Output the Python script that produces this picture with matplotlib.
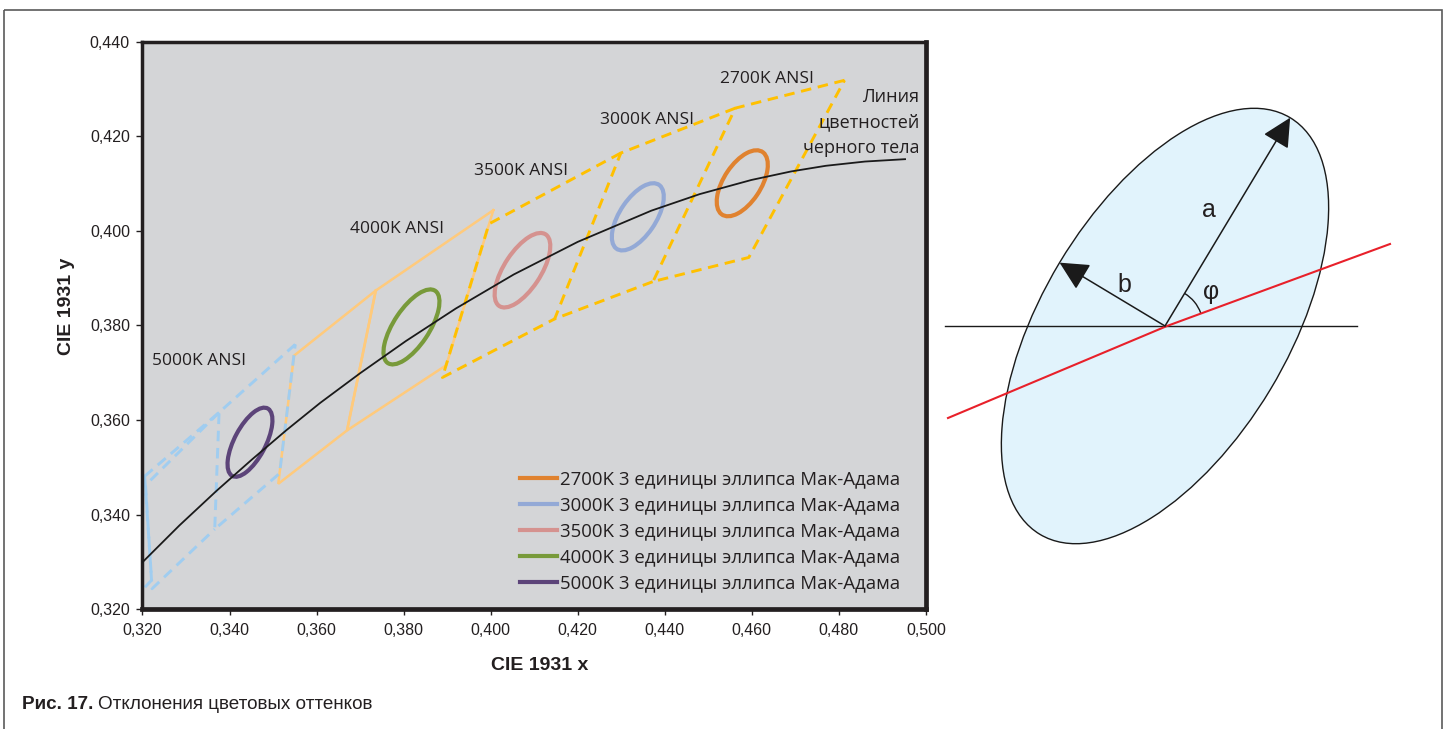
import numpy as np
import matplotlib
matplotlib.use('Agg')
import matplotlib.pyplot as plt
from matplotlib.patches import Ellipse, Arc, Rectangle
from matplotlib.lines import Line2D

plt.rcParams['font.family'] = ['Liberation Sans', 'DejaVu Sans']
TXT = '#231F20'
LABEL_FONT = ['Open Sans', 'DejaVu Sans']

# -------------------- ДАННЫЕ --------------------
# линия цветностей черного тела (CIE 1931 x, y)
bb_x = [0.3200, 0.3285, 0.3370, 0.3451, 0.3530, 0.3608, 0.3700, 0.3805, 0.3920,
        0.4053, 0.4200, 0.4369, 0.4480, 0.4599, 0.4690, 0.4770, 0.4860, 0.4952]
bb_y = [0.3299, 0.3377, 0.3450, 0.3516, 0.3578, 0.3636, 0.3699, 0.3767, 0.3836,
        0.3908, 0.3977, 0.4043, 0.4078, 0.4108, 0.4126, 0.4138, 0.4147, 0.4152]

# четырехугольники ANSI
q2700_x = [0.4813, 0.4562, 0.4373, 0.4593]
q2700_y = [0.4319, 0.4260, 0.3893, 0.3944]
q3000_x = [0.4562, 0.4299, 0.4147, 0.4373]
q3000_y = [0.4260, 0.4165, 0.3814, 0.3893]
q3500_x = [0.4299, 0.3996, 0.3889, 0.4147]
q3500_y = [0.4165, 0.4015, 0.3690, 0.3814]
q4000_x = [0.4006, 0.3736, 0.3670, 0.3898]
q4000_y = [0.4044, 0.3874, 0.3578, 0.3716]
q4500_x = [0.3736, 0.3548, 0.3512, 0.3670]
q4500_y = [0.3874, 0.3736, 0.3465, 0.3578]
q5000_x = [0.3551, 0.3376, 0.3366, 0.3515]
q5000_y = [0.3760, 0.3616, 0.3369, 0.3487]
q5700_x = [0.3376, 0.3207, 0.3222, 0.3366]
q5700_y = [0.3616, 0.3462, 0.3243, 0.3369]
q6500_x = [0.3205, 0.3028, 0.3068, 0.3221]
q6500_y = [0.3481, 0.3304, 0.3113, 0.3261]
extra_x = [0.3205, 0.3376]
extra_y = [0.3481, 0.3616]

# эллипсы Мак-Адама (3 ступени)
ell_names = ['2700K', '3000K', '3500K', '4000K', '5000K']
ell_cx = [0.4578, 0.4338, 0.4073, 0.3818, 0.3447]
ell_cy = [0.4101, 0.4030, 0.3917, 0.3797, 0.3553]
ell_a = [0.00810, 0.00834, 0.00927, 0.00939, 0.00822]
ell_b = [0.00420, 0.00408, 0.00414, 0.00402, 0.00354]
ell_ang = [53.70, 53.22, 54.00, 53.72, 59.62]
ell_colors = ['#E0822F', '#93A9D6', '#D5928F', '#789A3A', '#5C4479']

xticks = [0.32, 0.34, 0.36, 0.38, 0.40, 0.42, 0.44, 0.46, 0.48, 0.50]
yticks = [0.32, 0.34, 0.36, 0.38, 0.40, 0.42, 0.44]

# схема эллипса справа (в пикселях рисунка)
sch_center = (1165, 326)
sch_a, sch_b, sch_phi = 243, 123, 59
sch_horiz_x = [945, 1357]
sch_red_x = [948, 1167, 1390]
sch_red_y = [418, 326, 244]

# -------------------- ФИГУРА --------------------
fig = plt.figure(figsize=(14.45, 7.29), dpi=100)
ax = fig.add_axes([0.0986, 0.1646, 0.5422, 0.7778])
ax.set_facecolor('#D4D5D7')

DASH = (3.6, 2.3)


def quad(xs, ys, color, lw, dashes=None, close=True):
    px, py = list(xs), list(ys)
    if close:
        px.append(xs[0])
        py.append(ys[0])
    line, = ax.plot(px, py, color=color, lw=lw, solid_joinstyle='miter', zorder=2)
    if dashes:
        line.set_dashes(dashes)


quad(q4000_x, q4000_y, '#FFCA7C', 1.8)
quad(q4500_x, q4500_y, '#FFCA7C', 1.8)
quad(q2700_x, q2700_y, '#FFC000', 2.1, DASH)
quad(q3000_x, q3000_y, '#FFC000', 2.1, DASH, close=False)
quad(q3500_x, q3500_y, '#FFC000', 2.1, DASH, close=False)
quad(q5000_x, q5000_y, '#A0CDF0', 2.1, DASH)
quad(q5700_x, q5700_y, '#A0CDF0', 2.1, DASH, close=False)
quad(q6500_x, q6500_y, '#A0CDF0', 2.1, DASH)
quad(extra_x, extra_y, '#A0CDF0', 2.1, DASH, close=False)

for cx, cy, a, b, ang, c in zip(ell_cx, ell_cy, ell_a, ell_b, ell_ang, ell_colors):
    ax.add_patch(Ellipse((cx, cy), 2 * a, 2 * b, angle=ang, fill=False,
                         edgecolor=c, lw=3.0, zorder=3))

ax.plot(bb_x, bb_y, color='#1A1A1A', lw=1.3, zorder=4)

ax.set_xlim(0.32, 0.50)
ax.set_ylim(0.32, 0.44)
ax.set_xticks(xticks)
ax.set_yticks(yticks)
ax.set_xticklabels([f'{v:.3f}'.replace('.', ',') for v in xticks])
ax.set_yticklabels([f'{v:.3f}'.replace('.', ',') for v in yticks])
ax.tick_params(direction='out', length=4, width=1, colors=TXT, labelsize=11.5)
ax.tick_params(axis='x', pad=6)
ax.tick_params(axis='y', pad=5)
for side in ['top', 'left']:
    ax.spines[side].set_linewidth(2.5)
for side in ['right', 'bottom']:
    ax.spines[side].set_linewidth(3.4)
for s in ax.spines.values():
    s.set_color(TXT)

ax.set_xlabel('CIE 1931 x', fontsize=14, fontweight='bold', color=TXT)
ax.xaxis.set_label_coords(0.507, -0.085)
ax.set_ylabel('CIE 1931 y', fontsize=14, fontweight='bold', color=TXT)
ax.yaxis.set_label_coords(-0.086, 0.534)

# подписи
lab = dict(fontsize=12.5, color=TXT, family=LABEL_FONT, ha='center', va='center')
ax.text(0.4635, 0.4321, '2700K ANSI', **lab)
ax.text(0.4360, 0.4234, '3000K ANSI', **lab)
ax.text(0.4070, 0.4126, '3500K ANSI', **lab)
ax.text(0.3785, 0.4005, '4000K ANSI', **lab)
ax.text(0.3330, 0.3725, '5000K ANSI', **lab)
ax.text(0.4985, 0.4230, 'Линия\nцветностей\nчерного тела', fontsize=13, color=TXT,
        family=LABEL_FONT, ha='right', va='center', multialignment='right',
        linespacing=1.53)

handles = [Line2D([], [], color=c, lw=3) for c in ell_colors]
labels = [f'{n} 3 единицы эллипса Мак-Адама' for n in ell_names]
ax.legend(handles, labels, loc='upper left', bbox_to_anchor=(0.482, 0.245),
          frameon=False, borderpad=0, borderaxespad=0, handlelength=2.0,
          handletextpad=0.17, labelspacing=0.43,
          prop={'family': LABEL_FONT, 'size': 13.4}, labelcolor=TXT)

# -------------------- СХЕМА ЭЛЛИПСА --------------------
ov = fig.add_axes([0, 0, 1, 1])
ov.set_xlim(0, 1445)
ov.set_ylim(729, 0)
ov.axis('off')
ov.patch.set_alpha(0)

ov.add_patch(Rectangle((4, 10), 1438, 740, fill=False, edgecolor='#5A5A5A', lw=1.2))

ov.add_patch(Ellipse(sch_center, 2 * sch_a, 2 * sch_b, angle=-sch_phi,
                     facecolor='#E1F3FC', edgecolor='#1A1A1A', lw=1.0))
ov.plot(sch_horiz_x, [sch_center[1]] * 2, color='#1A1A1A', lw=1.0)
ov.plot(sch_red_x, sch_red_y, color='#E8202A', lw=1.5)

phi = np.radians(sch_phi)
tip_a = (sch_center[0] + sch_a * np.cos(phi), sch_center[1] - sch_a * np.sin(phi))
tip_b = (sch_center[0] - sch_b * np.sin(phi), sch_center[1] - sch_b * np.cos(phi))
for tip in (tip_a, tip_b):
    ov.annotate('', xy=tip, xytext=sch_center,
                arrowprops=dict(arrowstyle='-|>,head_length=0.9,head_width=0.45',
                                mutation_scale=20, color='#1A1A1A', lw=1.1,
                                shrinkA=0, shrinkB=0))
ov.add_patch(Arc(sch_center, 76, 76, theta1=-sch_phi, theta2=-20, color='#1A1A1A', lw=1.0))
ov.text(1209, 210, 'a', fontsize=18, color=TXT, ha='center', va='center')
ov.text(1124, 285, 'b', fontsize=18, color=TXT, ha='center', va='center')
ov.text(1211, 292, 'φ', fontsize=18, color=TXT, ha='center', va='center')

# подпись рисунка
cap = fig.text(22 / 1445, 1 - 709 / 729, 'Рис. 17.', fontsize=13.6, fontweight='bold',
               color=TXT, ha='left', va='baseline')
ov.annotate('Отклонения цветовых оттенков', xy=(1, 0), xycoords=cap,
            xytext=(3, 0), textcoords='offset points', fontsize=13.6, color=TXT,
            ha='left', va='bottom')

fig.savefig('out.png', dpi=100)
